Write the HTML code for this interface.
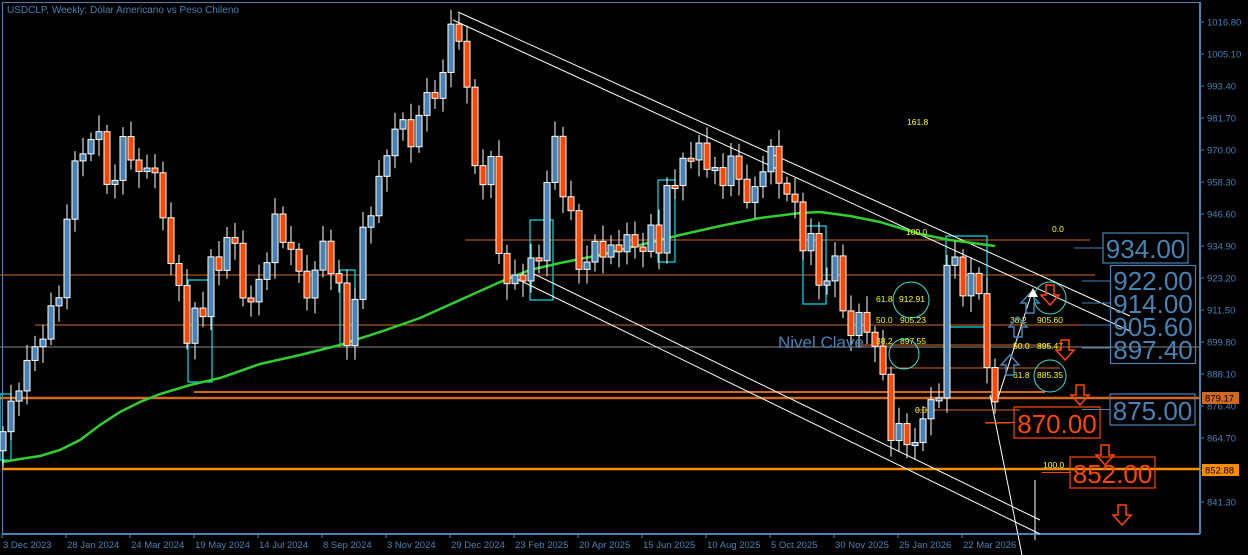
<!DOCTYPE html>
<html><head><meta charset="utf-8"><style>
html,body{margin:0;padding:0;background:#000;}
svg{display:block;font-family:"Liberation Sans",sans-serif;}
</style></head><body>
<svg id="s" width="1248" height="555" viewBox="0 0 1248 555" xmlns="http://www.w3.org/2000/svg">
<rect width="1248" height="555" fill="#000"/>
<g id="bg"></g>
<g id="ma"></g>
<g id="cd"></g>
<g id="ov"></g>
</svg>
<script>
(function(){
var NS="http://www.w3.org/2000/svg";
function el(p,t,a,txt){var e=document.createElementNS(NS,t);for(var k in a)e.setAttribute(k,a[k]);if(txt!==undefined)e.textContent=txt;document.getElementById(p).appendChild(e);return e;}
function Y(p){return 22+(1016.8-p)*2.735;}
var bg='bg',ov='ov';
el(bg,'rect',{x:2.5,y:2.5,width:1197,height:531,fill:'none',stroke:'#4682B4','stroke-width':1});
function hl(x1,x2,y,c,w){el(bg,'line',{x1:x1,x2:x2,y1:y,y2:y,stroke:c,'stroke-width':w||1});}
hl(465,1090,240,'#D2691E');
hl(0,1095,275,'#D2691E');
hl(35,1110,325,'#D2691E');
hl(0,1200,347,'#888');
hl(860,1050,345,'#D2691E');
hl(880,1060,368,'#D2691E');
hl(194,1045,392,'#D2691E',2);
hl(0,1200,398,'#D2691E',2.5);
hl(915,1020,410,'#D2691E');
hl(2,1200,469,'#FF8C00',2.5);
hl(985,1010,423,'#D2691E');
[[188,280,212,382],[340,270,355,345],[530,220,553,300],[658,180,675,262],[803,226,826,304],[946,236,987,327],[0,394,11,460]].forEach(function(r){el(bg,'rect',{x:r[0],y:r[1],width:r[2]-r[0],height:r[3]-r[1],fill:'none',stroke:'#00E5EE','stroke-width':1.2});});
function ln(x1,y1,x2,y2,c,w){el(bg,'line',{x1:x1,y1:y1,x2:x2,y2:y2,stroke:c||'#fff','stroke-width':w||1});}
ln(458,12,1130,316);ln(453,20,1130,331);
ln(513,277,1040,534);ln(530,272,1040,520);
ln(990,395,1022,555);ln(998,398,1032,292);
ln(1035,480,1035,540);
var pts=[[3,867],[20,886],[45,905],[60,918],[68,950],[76,965],[84,972],[100,975],[112,950],[124,977],[140,958],[152,970],[164,940],[172,930],[180,918],[188,895],[196,918],[204,905],[212,935],[222,925],[232,945],[240,926],[248,900],[256,932],[264,915],[272,948],[282,940],[292,930],[302,925],[312,910],[320,945],[330,925],[338,922],[346,900],[356,915],[364,945],[374,950],[386,968],[396,980],[404,978],[414,972],[422,988],[430,990],[438,993],[446,998],[451,1016],[459,1012],[467,990],[475,966],[483,958],[491,965],[499,935],[507,920],[515,923],[523,925],[531,928],[539,930],[547,960],[555,972],[563,955],[571,948],[579,924],[587,932],[595,935],[603,930],[611,938],[619,930],[627,940],[635,936],[643,930],[651,945],[659,932],[667,955],[675,960],[683,965],[691,966],[699,975],[707,960],[715,965],[723,958],[731,965],[739,962],[747,950],[755,955],[763,965],[771,969],[779,958],[787,956],[795,948],[803,935],[811,940],[819,918],[827,925],[835,930],[843,910],[851,905],[859,908],[867,904],[875,900],[883,885],[891,866],[899,870],[907,860],[915,866],[923,870],[931,878],[939,882],[947,925],[955,932],[963,918],[971,922],[979,920],[987,890],[995,876],[1000,897]];
function priceAt(x){for(var i=0;i<pts.length-1;i++){if(x>=pts[i][0]&&x<=pts[i+1][0]){var t=(x-pts[i][0])/(pts[i+1][0]-pts[i][0]);return pts[i][1]+t*(pts[i+1][1]-pts[i][1]);}}return pts[pts.length-1][1];}
var prev=860;
for(var i=0;i<125;i++){
 var x=3+8*i;var c=priceAt(x)+3*Math.sin(i*2.3);
 var o=prev;var hi=Math.max(o,c)+2+4*Math.abs(Math.sin(i*1.7));var lo=Math.min(o,c)-2-4*Math.abs(Math.cos(i*1.3));
 el('cd','line',{x1:x,x2:x,y1:Y(hi),y2:Y(lo),stroke:'#fff','stroke-width':1});
 var yt0=Y(Math.max(o,c)),yb0=Y(Math.min(o,c));if(yb0-yt0<3){yb0=yt0+3;}
 el('cd','rect',{x:x-3,y:yt0,width:6,height:yb0-yt0,fill:c>=o?'#4682B4':'#FF4500',stroke:'#fff','stroke-width':1});
 prev=c;
}
el('ma','polyline',{points:'2,462 20,459 40,456 60,450 80,440 100,425 120,412 140,402 160,394 190,385 220,378 260,364 300,355 340,345 380,332 420,318 460,300 500,282 530,270 560,263 600,255 640,245 680,235 720,226 760,218 800,213 820,212 850,216 880,222 920,234 950,240 995,246',fill:'none',stroke:'#32CD32','stroke-width':2.5});
var ax=[1016.8,1005.1,993.4,981.7,970.0,958.3,946.6,934.9,923.2,911.5,899.8,888.1,876.4,864.7,852.88,841.3];
ax.forEach(function(p){var y=Y(p);el(ov,'line',{x1:1200,x2:1204,y1:y,y2:y,stroke:'#4682B4'});el(ov,'text',{x:1207,y:y+3.5,'font-size':9.5,fill:'#4682B4'},p.toFixed(2));});
el(ov,'line',{x1:1200.5,x2:1200.5,y1:2,y2:534,stroke:'#4682B4'});
el(ov,'rect',{x:1202,y:392,width:37,height:12,fill:'#D2691E'});el(ov,'text',{x:1205,y:401.5,'font-size':9.5,fill:'#000'},'879.17');
el(ov,'rect',{x:1202,y:464,width:37,height:12,fill:'#FF8C00'});el(ov,'text',{x:1205,y:473.5,'font-size':9.5,fill:'#000'},'852.88');
var dl=['3 Dec 2023','28 Jan 2024','24 Mar 2024','19 May 2024','14 Jul 2024','8 Sep 2024','3 Nov 2024','29 Dec 2024','23 Feb 2025','20 Apr 2025','15 Jun 2025','10 Aug 2025','5 Oct 2025','30 Nov 2025','25 Jan 2026','22 Mar 2026'];
dl.forEach(function(d,k){var x=2+64*k;el(ov,'line',{x1:x,x2:x,y1:534,y2:538,stroke:'#4682B4'});el(ov,'text',{x:x+1,y:548,'font-size':9.5,fill:'#4682B4'},d);});
el(ov,'line',{x1:2,x2:1200,y1:534.5,y2:534.5,stroke:'#4682B4'});
el(ov,'text',{x:7,y:13,'font-size':10,fill:'#4682B4'},'USDCLP, Weekly:  Dólar Americano vs Peso Chileno');
function yt(x,y,t){el(ov,'text',{x:x,y:y,'font-size':8.5,fill:'#FFFF00'},t);}
yt(907,125,'161.8');yt(906,235,'100.0');yt(1052,232,'0.0');
yt(876,302,'61.8');yt(899,302,'912.91');yt(876,323,'50.0');yt(900,323,'905.23');yt(876,344,'38.2');yt(900,344,'897.55');
yt(915,413,'0.0');yt(1043,468,'100.0');
yt(1010,323,'38.2');yt(1037,323,'905.60');yt(1013,349,'50.0');yt(1037,349,'895.47');yt(1013,378,'61.8');yt(1037,378,'885.35');
[[911,300,18],[904,354,15],[1050,298,16],[1050,376,16]].forEach(function(c){el(ov,'circle',{cx:c[0],cy:c[1],r:c[2],fill:'none',stroke:'#40E0D0','stroke-width':1});});
el(ov,'text',{x:778,y:348,'font-size':17,fill:'#4682B4'},'Nivel Clave');
function bx(x,y,w,h,t,c,lx){el(ov,'rect',{x:x,y:y,width:w,height:h,fill:'none',stroke:c,'stroke-width':1.2});el(ov,'text',{x:x+w/2,y:y+h-5,'font-size':26,fill:c,'text-anchor':'middle'},t);if(lx)el(ov,'line',{x1:lx,x2:x,y1:y+h/2,y2:y+h/2,stroke:c});}
bx(1103,233,85,30,'934.00','#4682B4',1074);
el(ov,'rect',{x:1110.5,y:265.5,width:85,height:98,fill:'none',stroke:'#4682B4','stroke-width':1.2});
[['922.00',290],['914.00',313],['905.60',336],['897.40',359]].forEach(function(a){el(ov,'text',{x:1153,y:a[1],'font-size':26,fill:'#4682B4','text-anchor':'middle'},a[0]);});
[281,303,325,348].forEach(function(y){el(ov,'line',{x1:1082,x2:1110,y1:y,y2:y,stroke:'#4682B4'});});
bx(1110,394,85,31,'875.00','#4682B4',1082);
bx(1014,407,86,31,'870.00','#FF4500',986);
bx(1070,457,85,31,'852.00','#FF4500',1042);
function arr(x,y,c,up){var s=up?-1:1;var p=[[x-4,y-10*s],[x+4,y-10*s],[x+4,y],[x+9,y],[x,y+10*s],[x-9,y],[x-4,y]];el(ov,'polygon',{points:p.map(function(q){return q.join(',');}).join(' '),fill:'none',stroke:c,'stroke-width':1.5});}
arr(1080,395,'#FF4500');arr(1105,455,'#FF4500');arr(1122,515,'#FF4500');arr(1050,295,'#FF4500');arr(1065,350,'#FF4500');
arr(1010,365,'#4682B4',true);arr(1018,327,'#4682B4',true);arr(1030,303,'#4682B4',true);
el(ov,'polygon',{points:'1033,288 1028,297 1038,297',fill:'#fff'});
})();
</script>
</body></html>
